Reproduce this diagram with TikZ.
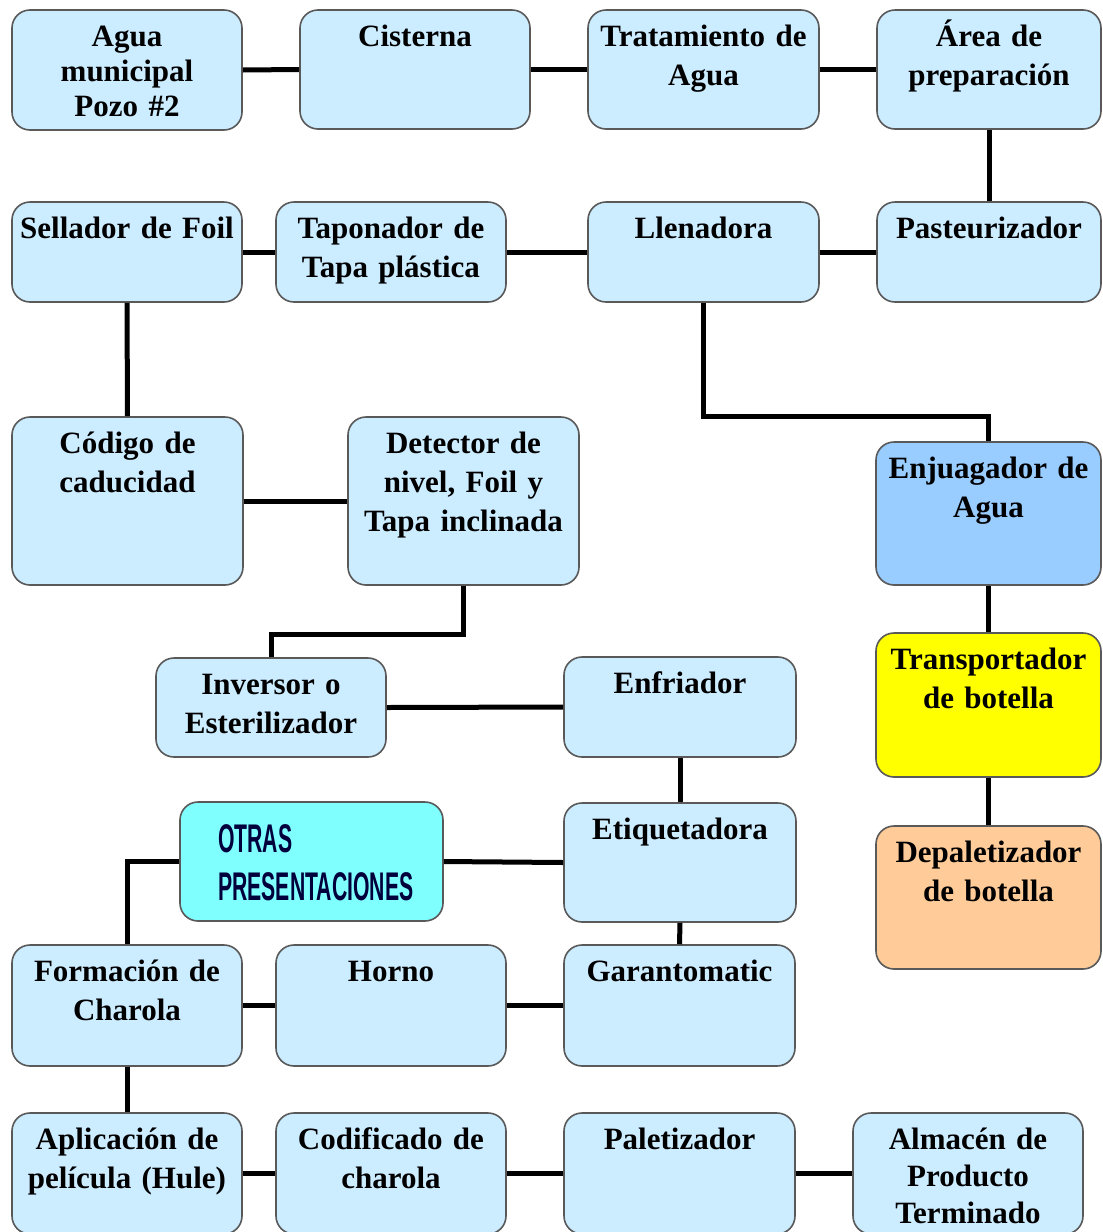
\documentclass[tikz,border=0pt]{standalone}
\usepackage{fontspec}
\setmainfont{Liberation Serif}
\newfontfamily\condfont[FakeStretch=0.53]{Liberation Sans}
\usetikzlibrary{calc}
\definecolor{lb}{RGB}{204,236,255}
\definecolor{mb}{RGB}{153,204,255}
\definecolor{yl}{RGB}{255,255,0}
\definecolor{orn}{RGB}{255,204,153}
\definecolor{cyn}{RGB}{128,255,255}
\definecolor{navy}{RGB}{0,0,60}
\tikzset{
  box/.style={draw=black!65, line width=1.6pt, rounded corners=18pt, inner sep=0pt},
  txt/.style={anchor=base, align=center, inner sep=0pt, font=\bfseries\fontsize{31}{39}\selectfont},
  conn/.style={line width=5pt, black}
}
\newcommand\procbox[7]{%
  \pgfmathsetmacro\pbw{#5-#3}\pgfmathsetmacro\pbh{#6-#4}%
  \pgfmathsetmacro\pbx{(#3+#5)/2}\pgfmathsetmacro\pby{(#4+#6)/2}%
  \node[box, fill=#2, minimum width=\pbw pt, minimum height=\pbh pt] (#1) at (\pbx,\pby) {};
  \node[txt, text width=\pbw pt] (#1t) at ($(#1.north)+(0,37)$) {#7};
}
\begin{document}
\begin{tikzpicture}[x=1pt,y=-1pt]
\useasboundingbox[fill=white] (0,0) rectangle (1103,1232);
% boxes
\procbox{agua}{lb}{12}{10}{242}{130}{Agua\\[-4pt]municipal\\[-4pt]Pozo \#2}
\procbox{cist}{lb}{300}{10}{530}{129}{Cisterna}
\procbox{trat}{lb}{588}{10}{819}{129}{Tratamiento de\\Agua}
\procbox{area}{lb}{877}{10}{1101}{129}{Área de\\preparación}
\procbox{sell}{lb}{12}{202}{242}{302}{Sellador de Foil}
\procbox{tapo}{lb}{276}{202}{506}{302}{Taponador de\\Tapa plástica}
\procbox{llen}{lb}{588}{202}{819}{302}{Llenadora}
\procbox{past}{lb}{877}{202}{1101}{302}{Pasteurizador}
\procbox{cod}{lb}{12}{417}{243}{585}{Código de\\caducidad}
\procbox{det}{lb}{348}{417}{579}{585}{Detector de\\nivel, Foil y\\Tapa inclinada}
\procbox{enj}{mb}{876}{442}{1101}{585}{Enjuagador de\\Agua}
\procbox{inv}{lb}{156}{658}{386}{757}{Inversor o\\Esterilizador}
\procbox{enf}{lb}{564}{657}{796}{757}{Enfriador}
\procbox{trans}{yl}{876}{633}{1101}{777}{Transportador\\de botella}
\procbox{etiq}{lb}{564}{803}{796}{922}{Etiquetadora}
\procbox{dep}{orn}{876}{826}{1101}{969}{Depaletizador\\de botella}
\procbox{form}{lb}{12}{945}{242}{1066}{Formación de\\Charola}
\procbox{horno}{lb}{276}{945}{506}{1066}{Horno}
\procbox{gar}{lb}{564}{945}{795}{1066}{Garantomatic}
\procbox{apl}{lb}{12}{1113}{242}{1234}{Aplicación de\\película (Hule)}
\procbox{codch}{lb}{276}{1113}{506}{1234}{Codificado de\\charola}
\procbox{pal}{lb}{564}{1113}{795}{1234}{Paletizador}
\procbox{alm}{lb}{853}{1113}{1083}{1234}{Almacén de\\[-2pt]Producto\\[-2pt]Terminado}
% special box
\node[box, fill=cyn, minimum width=263pt, minimum height=119pt] (otras) at (311.5,861.5) {};
\node[anchor=base west, align=left, text width=240pt, inner sep=0pt, text=navy,
      font=\condfont\bfseries\fontsize{40}{48}\selectfont] (otrast) at (218,852) {OTRAS\\PRESENTACIONES};
% bend points
\coordinate (k1) at (0,416);
\coordinate (k2) at (0,634);
% connectors
\draw[conn] (agua.east) -- (cist.west);
\draw[conn] (cist.east) -- (trat.west);
\draw[conn] (trat.east) -- (area.west);
\draw[conn] (area.south) -- (past.north);
\draw[conn] (past.west) -- (llen.east);
\draw[conn] (llen.west) -- (tapo.east);
\draw[conn] (tapo.west) -- (sell.east);
\draw[conn] (sell.south) -- (cod.north);
\draw[conn] (cod.east) -- (det.west);
\draw[conn] (det.south) -- (det.south |- k2) -| (inv.north);
\draw[conn] (llen.south) -- (llen.south |- k1) -| (enj.north);
\draw[conn] (enj.south) -- (trans.north);
\draw[conn] (trans.south) -- (dep.north);
\draw[conn] (inv.east) -- (enf.west);
\draw[conn] (enf.south) -- (etiq.north);
\draw[conn] (etiq.west) -- (otras.east);
\draw[conn] (otras.west) -| (form.north);
\draw[conn] (etiq.south) -- (gar.north);
\draw[conn] (form.east) -- (horno.west);
\draw[conn] (horno.east) -- (gar.west);
\draw[conn] (form.south) -- (apl.north);
\draw[conn] (apl.east) -- (codch.west);
\draw[conn] (codch.east) -- (pal.west);
\draw[conn] (pal.east) -- (alm.west);
\end{tikzpicture}
\end{document}
